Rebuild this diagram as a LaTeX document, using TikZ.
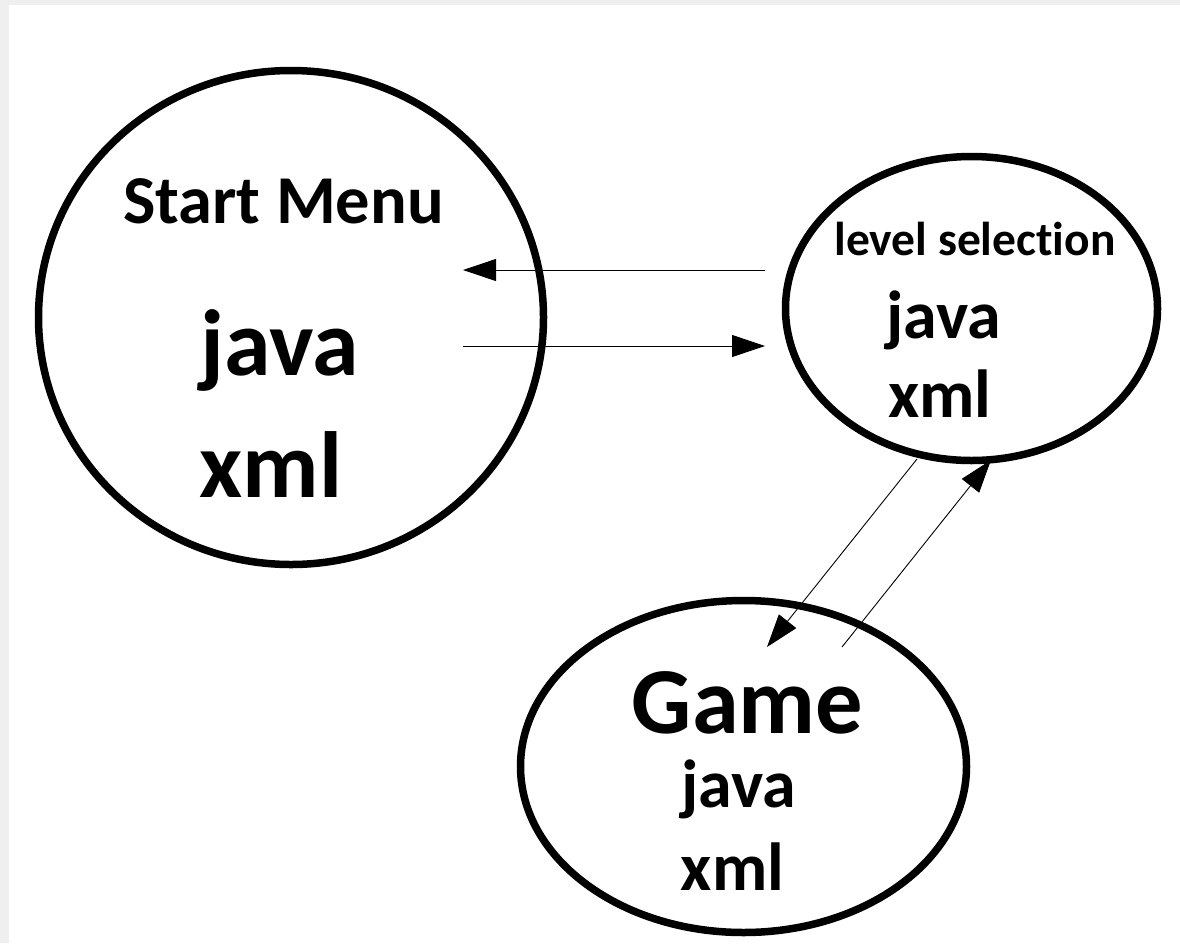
\documentclass[tikz,border=0pt]{standalone}
\usepackage{fontspec}
\setmainfont{Carlito}[Ligatures=NoCommon]
\usetikzlibrary{shapes.geometric,arrows.meta}
\definecolor{framegray}{HTML}{EFEFEF}
\tikzset{
  screen/.style={ellipse, draw=black, line width=7.5pt, inner sep=0pt},
  label/.style={inner sep=0pt, anchor=base, font=\bfseries},
  link/.style={draw=black, line width=0.9pt,
    -{Triangle[length=33pt,width=22pt]}},
}
\newcommand{\fsz}[1]{\fontsize{#1}{#1}\selectfont}
\begin{document}
\begin{tikzpicture}[x=1pt,y=-1pt]
  % page frame
  \fill[framegray] (0,0) rectangle (1180,943);
  \fill[white] (9,5) rectangle (1180,943);
  \useasboundingbox (0,0) rectangle (1180,943);

  % screens
  \node[screen, minimum width=505pt, minimum height=494pt] (start) at (291,317.5) {};
  \node[screen, minimum width=372pt, minimum height=304pt] (level) at (971.5,308.5) {};
  \node[screen, minimum width=446pt, minimum height=332pt] (game) at (743.5,766.5) {};

  % texts
  \node[label, font=\bfseries\fsz{68.5}] (starttitle) at (283.5,223) {Start Menu};
  \node[label, font=\bfseries\fsz{94}] (startjava) at (280,375) {java};
  \node[label, font=\bfseries\fsz{94}] (startxml) at (271,497) {xml};

  \node[label, font=\bfseries\fsz{47.5}] (leveltitle) at (975,255) {level selection};
  \node[label, font=\bfseries\fsz{68}] (leveljava) at (943.5,338) {java};
  \node[label, font=\bfseries\fsz{68}] (levelxml) at (940,417) {xml};

  \node[label, font=\bfseries\fsz{94.5}] (gametitle) at (747.5,733) {Game};
  \node[label, font=\bfseries\fsz{68}] (gamejava) at (738.5,807) {java};
  \node[label, font=\bfseries\fsz{68}] (gamexml) at (732.5,890) {xml};

  % connector end points
  \coordinate (backfrom) at (765,270);
  \coordinate (backto) at (463,270);
  \coordinate (gofrom) at (463,346);
  \coordinate (goto) at (765,346);
  \coordinate (playfrom) at (917,459);
  \coordinate (playto) at (767,647);
  \coordinate (retfrom) at (842,647);
  \coordinate (retto) at (991,460);

  % transitions
  \draw[link] (backfrom) -- (backto);
  \draw[link] (gofrom) -- (goto);
  \draw[link] (playfrom) -- (playto);
  \draw[link] (retfrom) -- (retto);
\end{tikzpicture}
\end{document}
